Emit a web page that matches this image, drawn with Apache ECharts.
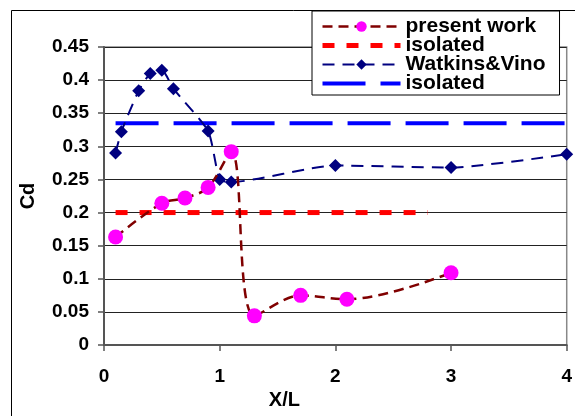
<!DOCTYPE html>
<html>
<head>
<meta charset="utf-8">
<script src="https://cdn.jsdelivr.net/npm/echarts@6/dist/echarts.min.js"></script>
<style>
html,body{margin:0;padding:0;background:#fff;}
#chart{width:575px;height:416px;}
</style>
</head>
<body>
<div id="chart"></div>
<script>
// ---- data ----
const xPresent = [0.1, 0.5, 0.7, 0.9, 1.1, 1.3, 1.7, 2.1, 3.0];
const cdPresent = [0.163, 0.214, 0.222, 0.238, 0.292, 0.044, 0.075, 0.069, 0.109];
const xIsolatedPresent = [0.1, 2.8];
const cdIsolatedPresent = [0.2, 0.2];
const xWatkins = [0.1, 0.15, 0.3, 0.4, 0.5, 0.6, 0.9, 1.0, 1.1, 2.0, 3.0, 4.0];
const cdWatkins = [0.290, 0.322, 0.384, 0.410, 0.415, 0.387, 0.323, 0.250, 0.246, 0.271, 0.268, 0.288];
const xIsolatedWatkins = [0.1, 4.0];
const cdIsolatedWatkins = [0.335, 0.335];
const seriesNames = ['present work', 'isolated_1', 'Watkins&Vino', 'isolated_2'];
const xAxisTitle = 'X/L';
const yAxisTitle = 'Cd';

const pairs = (xs, ys) => xs.map((x, i) => [x, ys[i]]);
const font = 'Liberation Sans, Arial, sans-serif';
const hiddenSymbol = {color: 'rgba(0,0,0,0)', borderWidth: 0, opacity: 0};

const chart = echarts.init(document.getElementById('chart'), null, {renderer: 'canvas'});
chart.setOption({
  animation: false,
  backgroundColor: '#fff',
  graphic: [{
    type: 'rect', z: 0, silent: true,
    shape: {x: 11.5, y: 10.5, width: 700, height: 500},
    style: {fill: 'none', stroke: '#000', lineWidth: 1}
  }],
  grid: {
    left: 104, right: 4, top: 47, bottom: 71,
    show: true, borderColor: '#888', borderWidth: 1.5, backgroundColor: 'transparent'
  },
  legend: {
    orient: 'vertical',
    left: 312, top: 11,
    data: [
      {name: seriesNames[0], lineStyle: {width: 2.5}},
      {name: seriesNames[1], itemStyle: hiddenSymbol, lineStyle: {width: 5}},
      {name: seriesNames[2], lineStyle: {width: 2}},
      {name: seriesNames[3], itemStyle: hiddenSymbol, lineStyle: {width: 4}}
    ],
    formatter: n => n.replace(/_\d$/, ''),
    itemWidth: 78, itemHeight: 13, itemGap: -2,
    padding: [5, 14, 1, 8],
    backgroundColor: '#fff', borderColor: '#000', borderWidth: 1,
    textStyle: {fontFamily: font, fontWeight: 'bold', fontSize: 21, color: '#000', lineHeight: 19},
    z: 10
  },
  xAxis: {
    type: 'value', min: 0, max: 4, interval: 1,
    name: xAxisTitle, nameLocation: 'middle', nameGap: 44,
    nameTextStyle: {fontFamily: font, fontWeight: 'bold', fontSize: 20, color: '#000', padding: [0, 102, 0, 0]},
    axisLine: {show: true, onZero: false, lineStyle: {color: '#555', width: 2}},
    axisTick: {show: true, length: 6, lineStyle: {color: '#555', width: 1.5}},
    axisLabel: {fontFamily: font, fontWeight: 'bold', fontSize: 19, color: '#000', margin: 22},
    splitLine: {show: false}
  },
  yAxis: {
    type: 'value', min: 0, max: 0.45, interval: 0.05,
    name: yAxisTitle, nameLocation: 'middle', nameGap: 66, nameRotate: 90,
    nameTextStyle: {fontFamily: font, fontWeight: 'bold', fontSize: 20, color: '#000'},
    axisLine: {show: true, lineStyle: {color: '#555', width: 2}},
    axisTick: {show: true, length: 6, lineStyle: {color: '#555', width: 1.5}},
    axisLabel: {fontFamily: font, fontWeight: 'bold', fontSize: 19, color: '#000', margin: 15},
    splitLine: {show: true, lineStyle: {color: '#222', width: 1}}
  },
  series: [
    {
      name: seriesNames[0], type: 'line', data: pairs(xPresent, cdPresent),
      smooth: 0.35, symbol: 'circle', symbolSize: 15, z: 4,
      itemStyle: {color: '#FF00FF'},
      lineStyle: {color: '#800000', width: 2.5, type: [10, 6]}
    },
    {
      name: seriesNames[1], type: 'line', data: pairs(xIsolatedPresent, cdIsolatedPresent),
      symbol: 'none', z: 2,
      itemStyle: {color: '#FF0000'},
      lineStyle: {color: '#FF0000', width: 5, type: [12, 12]}
    },
    {
      name: seriesNames[2], type: 'line', data: pairs(xWatkins, cdWatkins),
      smooth: 0.2, symbol: 'diamond', symbolSize: 13, z: 3,
      itemStyle: {color: '#000080'},
      lineStyle: {color: '#000080', width: 2, type: [12, 8]}
    },
    {
      name: seriesNames[3], type: 'line', data: pairs(xIsolatedWatkins, cdIsolatedWatkins),
      symbol: 'none', z: 2,
      itemStyle: {color: '#0000FF'},
      lineStyle: {color: '#0000FF', width: 4, type: [43, 15]}
    }
  ]
});
</script>
</body>
</html>
